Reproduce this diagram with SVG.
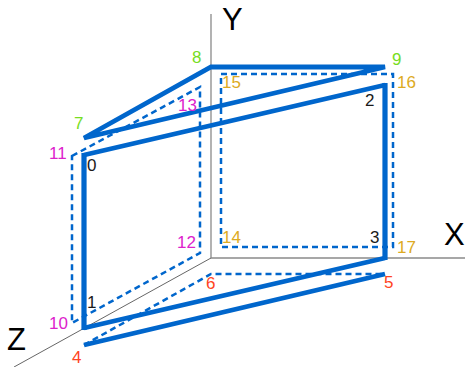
<svg xmlns="http://www.w3.org/2000/svg" width="465" height="367" viewBox="0 0 465 367">
<style>
.axis{stroke:#8a8a8a;stroke-width:1.3;fill:none}
.zaxis{stroke:#666;stroke-width:1;fill:none}
.thick{stroke:#0066cc;stroke-width:5.2;fill:none}
.mid{stroke:#0066cc;stroke-width:4.8;fill:none;stroke-linejoin:miter}
.dash{stroke:#0066cc;stroke-width:2.5;fill:none;stroke-dasharray:6 4}
text{font-family:"Liberation Sans",Arial,sans-serif;font-size:17px}
.ax{font-size:31px;fill:#000}
.k{fill:#1a1a1a}.g{fill:#77dd22}.m{fill:#dd22cc}.o{fill:#ddaa22}.r{fill:#ff4422}
</style>
<g id="connectors">
<path class="axis" d="M211 14V258H465"/>
<path class="zaxis" d="M211 258L14 367"/>
<path class="dash" d="M72 156L200 87V253L72 323Z"/>
<path class="dash" d="M221 74H393V247H221Z"/>
<path class="dash" d="M84 345L211 274H385"/>
<path class="mid" d="M84 155L385 85M84 328L385 258"/>
<path class="thick" d="M84 153V330M385 83V260"/>
<path class="mid" d="M84 138L211 67H385Z"/>
<path class="mid" d="M84 345L385 274"/>
</g>
<g id="axis-y"><text class="ax" x="222" y="30">Y</text></g>
<g id="axis-x"><text class="ax" x="444" y="245">X</text></g>
<g id="axis-z"><text class="ax" x="7" y="350">Z</text></g>
<g id="n0"><text class="k" x="87" y="171">0</text></g>
<g id="n1"><text class="k" x="87" y="308">1</text></g>
<g id="n2"><text class="k" x="365" y="106">2</text></g>
<g id="n3"><text class="k" x="370" y="243">3</text></g>
<g id="n4"><text class="r" x="72" y="363">4</text></g>
<g id="n5"><text class="r" x="384" y="288">5</text></g>
<g id="n6"><text class="r" x="206" y="289">6</text></g>
<g id="n7"><text class="g" x="74" y="129">7</text></g>
<g id="n8"><text class="g" x="192" y="63">8</text></g>
<g id="n9"><text class="g" x="392" y="65">9</text></g>
<g id="n10"><text class="m" x="49" y="329">10</text></g>
<g id="n11"><text class="m" x="49" y="159">11</text></g>
<g id="n12"><text class="m" x="177" y="248">12</text></g>
<g id="n13"><text class="m" x="178" y="111">13</text></g>
<g id="n14"><text class="o" x="222" y="243">14</text></g>
<g id="n15"><text class="o" x="222" y="88">15</text></g>
<g id="n16"><text class="o" x="397" y="88">16</text></g>
<g id="n17"><text class="o" x="397" y="253">17</text></g>
</svg>
